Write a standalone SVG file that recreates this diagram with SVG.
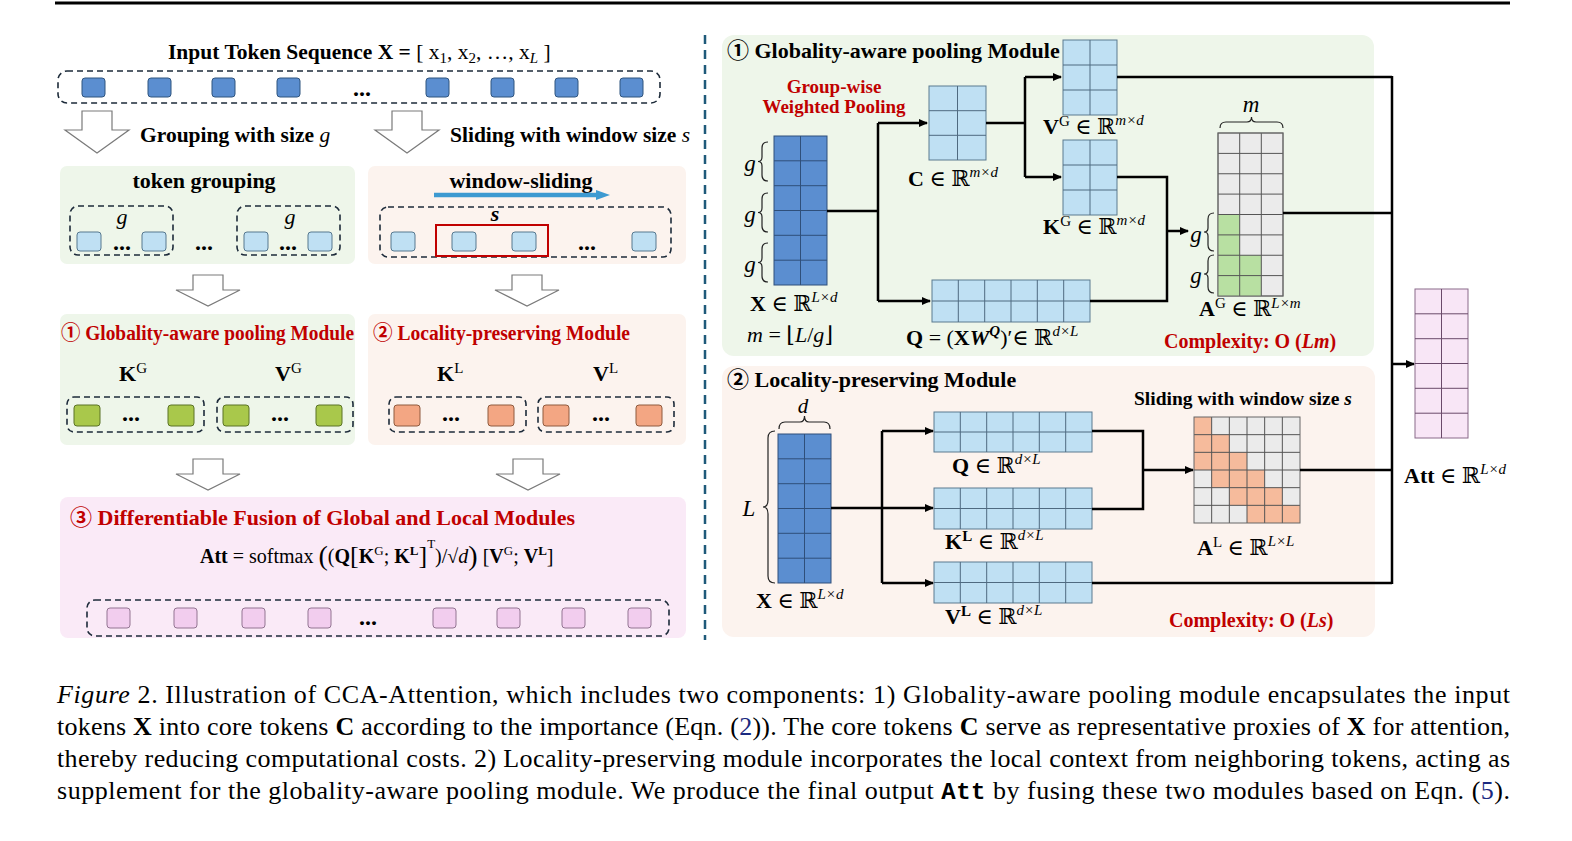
<svg xmlns="http://www.w3.org/2000/svg" width="1572" height="841" viewBox="0 0 1572 841">
<style>
text{font-family:"Liberation Serif","DejaVu Serif","Noto Sans CJK SC",serif;fill:#000}
.b{font-weight:bold}
.i{font-style:italic}
.red{fill:#c00000}
.lab{font-size:21.5px;font-weight:bold}
.ttl{font-size:22px;font-weight:bold}
.m{font-size:22px}
.s{font-size:15px}
.dots{font-size:24px;font-weight:bold}
.dash{fill:none;stroke:#1d2b3a;stroke-width:1.6;stroke-dasharray:6 4}
.pg{fill:#eef6ea}
.pp{fill:#fcf3ee}
.pk{fill:#faeaf7}
.tb{fill:#5b8ed0;stroke:#2f557f;stroke-width:1}
.tl{fill:#bfe0f3;stroke:#56788f;stroke-width:1}
.tg{fill:#a9c84b;stroke:#5b7326;stroke-width:1}
.to{fill:#f3a683;stroke:#8f5a3e;stroke-width:1}
.tp{fill:#f2cdee;stroke:#937592;stroke-width:1}
.mb{fill:#5b8ed0;stroke:#2f4f7a;stroke-width:1}
.mbg{fill:none;stroke:#2f4f7a;stroke-width:1}
.ml{fill:#bfe0f3;stroke:#5b7a8f;stroke-width:1}
.mlg{fill:none;stroke:#4f6a80;stroke-width:1}
.mgr{fill:#ebebeb;stroke:#666;stroke-width:1}
.mgg{fill:none;stroke:#555;stroke-width:1}
.mpk{fill:#f8e6f6;stroke:#8a6a8a;stroke-width:1}
.mpkg{fill:none;stroke:#6a4a6a;stroke-width:1}
.br{fill:none;stroke:#222;stroke-width:1.2}
.con{fill:none;stroke:#000;stroke-width:2.5}
.cap{font-size:26px}
</style>
<defs>
<marker id="ah" markerWidth="9" markerHeight="8" refX="8" refY="4" orient="auto" markerUnits="userSpaceOnUse">
<path d="M0,0 L9,4 L0,8 Z" fill="#000"/>
</marker>
<path id="bigArrow" d="M-15,0 H15 V19 H32 L0,42 L-32,19 H-15 Z" fill="#fff" stroke="#7a7a7a" stroke-width="1.2"/>
<path id="smallArrow" d="M-15,0 H15 V15 H32 L0,31 L-32,15 H-15 Z" fill="#fff" stroke="#7a7a7a" stroke-width="1.2"/>
</defs>
<rect x="0" y="0" width="1572" height="841" fill="#fff"/>
<line x1="55" y1="3" x2="1510" y2="3" stroke="#000" stroke-width="3"/>
<line x1="705" y1="35" x2="705" y2="640" stroke="#1f5a7a" stroke-width="2.5" stroke-dasharray="9 6"/>

<!-- LEFT: input sequence -->
<g id="input-seq">
<text x="168" y="59" font-size="21.5"><tspan class="b">Input Token Sequence X =</tspan> [ x<tspan class="s" dy="4">1</tspan><tspan dy="-4">, x</tspan><tspan class="s" dy="4">2</tspan><tspan dy="-4">, …, x</tspan><tspan class="s i" dy="4">L</tspan><tspan dy="-4"> ]</tspan></text>
<rect x="58" y="71" width="602" height="32" rx="9" class="dash"/>
<rect x="82" y="78" width="23" height="19" rx="3" class="tb"/>
<rect x="148" y="78" width="23" height="19" rx="3" class="tb"/>
<rect x="212" y="78" width="23" height="19" rx="3" class="tb"/>
<rect x="277" y="78" width="23" height="19" rx="3" class="tb"/>
<text x="362" y="96" class="dots" text-anchor="middle">...</text>
<rect x="426" y="78" width="23" height="19" rx="3" class="tb"/>
<rect x="491" y="78" width="23" height="19" rx="3" class="tb"/>
<rect x="555" y="78" width="23" height="19" rx="3" class="tb"/>
<rect x="620" y="78" width="23" height="19" rx="3" class="tb"/>
</g>

<g id="arrows-left">
<use href="#bigArrow" x="97" y="111"/>
<use href="#bigArrow" x="407" y="111"/>
<use href="#smallArrow" x="208" y="275"/>
<use href="#smallArrow" x="527" y="275"/>
<use href="#smallArrow" x="208" y="459"/>
<use href="#smallArrow" x="528" y="459"/>
<text x="140" y="142" class="lab">Grouping with size <tspan class="i" font-weight="normal">g</tspan></text>
<text x="450" y="142" class="lab">Sliding with window size <tspan class="i" font-weight="normal">s</tspan></text>
</g>

<g id="token-grouping">
<rect x="60" y="166" width="295" height="98" rx="7" class="pg"/>
<text x="204" y="188" class="ttl" text-anchor="middle">token grouping</text>
<rect x="70" y="206" width="103" height="49" rx="8" class="dash"/>
<rect x="237" y="206" width="103" height="49" rx="8" class="dash"/>
<text x="122" y="224" font-size="22" class="i" text-anchor="middle">g</text>
<text x="290" y="224" font-size="22" class="i" text-anchor="middle">g</text>
<rect x="77" y="232" width="24" height="19" rx="3" class="tl"/>
<rect x="142" y="232" width="24" height="19" rx="3" class="tl"/>
<rect x="244" y="232" width="24" height="19" rx="3" class="tl"/>
<rect x="308" y="232" width="24" height="19" rx="3" class="tl"/>
<text x="122" y="250" class="dots" text-anchor="middle">...</text>
<text x="204" y="250" class="dots" text-anchor="middle">...</text>
<text x="288" y="250" class="dots" text-anchor="middle">...</text>
</g>

<g id="window-sliding">
<rect x="368" y="166" width="318" height="98" rx="7" class="pp"/>
<text x="521" y="188" class="ttl" text-anchor="middle">window-sliding</text>
<line x1="434" y1="195" x2="597" y2="195" stroke="#3d9ad1" stroke-width="4.5"/>
<path d="M596,190 L610,195 L596,200 Z" fill="#3d9ad1"/>
<rect x="380" y="207" width="291" height="50" rx="8" class="dash"/>
<text x="495" y="221" font-size="22" class="b i" text-anchor="middle">s</text>
<rect x="436" y="225" width="112" height="31" fill="none" stroke="#c00000" stroke-width="2"/>
<rect x="391" y="232" width="24" height="19" rx="3" class="tl"/>
<rect x="452" y="232" width="24" height="19" rx="3" class="tl"/>
<rect x="512" y="232" width="24" height="19" rx="3" class="tl"/>
<rect x="632" y="232" width="24" height="19" rx="3" class="tl"/>
<text x="587" y="250" class="dots" text-anchor="middle">...</text>
</g>

<g id="global-module-left">
<rect x="60" y="314" width="295" height="131" rx="7" class="pg"/>
<text x="61" y="340" class="b red" font-size="20" textLength="293" lengthAdjust="spacingAndGlyphs">① Globality-aware pooling Module</text>
<text x="119" y="381" font-size="22"><tspan class="b">K</tspan><tspan class="s" dy="-8">G</tspan></text>
<text x="275" y="381" font-size="22"><tspan class="b">V</tspan><tspan class="s" dy="-8">G</tspan></text>
<rect x="67" y="397" width="137" height="35" rx="7" class="dash"/>
<rect x="217" y="397" width="136" height="35" rx="7" class="dash"/>
<rect x="74" y="405" width="26" height="21" rx="3" class="tg"/>
<rect x="168" y="405" width="26" height="21" rx="3" class="tg"/>
<rect x="223" y="405" width="26" height="21" rx="3" class="tg"/>
<rect x="316" y="405" width="26" height="21" rx="3" class="tg"/>
<text x="131" y="421" class="dots" text-anchor="middle">...</text>
<text x="280" y="421" class="dots" text-anchor="middle">...</text>
</g>

<g id="local-module-left">
<rect x="368" y="314" width="318" height="131" rx="7" class="pp"/>
<text x="373" y="340" class="b red" font-size="20" textLength="257" lengthAdjust="spacingAndGlyphs">② Locality-preserving Module</text>
<text x="437" y="381" font-size="22"><tspan class="b">K</tspan><tspan class="s" dy="-8">L</tspan></text>
<text x="593" y="381" font-size="22"><tspan class="b">V</tspan><tspan class="s" dy="-8">L</tspan></text>
<rect x="389" y="397" width="137" height="35" rx="7" class="dash"/>
<rect x="538" y="397" width="136" height="35" rx="7" class="dash"/>
<rect x="394" y="405" width="26" height="21" rx="3" class="to"/>
<rect x="488" y="405" width="26" height="21" rx="3" class="to"/>
<rect x="543" y="405" width="26" height="21" rx="3" class="to"/>
<rect x="636" y="405" width="26" height="21" rx="3" class="to"/>
<text x="451" y="421" class="dots" text-anchor="middle">...</text>
<text x="601" y="421" class="dots" text-anchor="middle">...</text>
</g>

<g id="fusion">
<rect x="60" y="497" width="626" height="141" rx="8" class="pk"/>
<text x="70" y="525" class="b red" font-size="22">③ Differentiable Fusion of Global and Local Modules</text>
<text x="200" y="563" font-size="20"><tspan class="b">Att</tspan> = softmax <tspan font-size="28" dy="2">(</tspan><tspan dy="-2">(</tspan><tspan class="b">Q</tspan><tspan font-size="26" dy="1">[</tspan><tspan class="b" dy="-1">K</tspan><tspan font-size="13" dy="-8">G</tspan><tspan dy="8">; </tspan><tspan class="b">K</tspan><tspan class="b" font-size="13" dy="-8">L</tspan><tspan font-size="26" dy="9">]</tspan><tspan font-size="13" dy="-16">T</tspan><tspan dy="15">)/√</tspan><tspan class="i">d</tspan><tspan font-size="28" dy="2">)</tspan><tspan dy="-2"> [</tspan><tspan class="b">V</tspan><tspan font-size="13" dy="-8">G</tspan><tspan dy="8">; </tspan><tspan class="b">V</tspan><tspan class="b" font-size="13" dy="-8">L</tspan><tspan dy="8">]</tspan></text>
<rect x="87" y="600" width="582" height="36" rx="8" class="dash"/>
<rect x="107" y="608" width="23" height="20" rx="3" class="tp"/>
<rect x="174" y="608" width="23" height="20" rx="3" class="tp"/>
<rect x="242" y="608" width="23" height="20" rx="3" class="tp"/>
<rect x="308" y="608" width="23" height="20" rx="3" class="tp"/>
<text x="368" y="625" class="dots" text-anchor="middle">...</text>
<rect x="433" y="608" width="23" height="20" rx="3" class="tp"/>
<rect x="497" y="608" width="23" height="20" rx="3" class="tp"/>
<rect x="562" y="608" width="23" height="20" rx="3" class="tp"/>
<rect x="628" y="608" width="23" height="20" rx="3" class="tp"/>
</g>

<!-- RIGHT PANELS -->
<g id="global-panel">
<rect x="722" y="35" width="652" height="321" rx="12" class="pg"/>
<text x="727" y="58" class="b" font-size="22">① Globality-aware pooling Module</text>
<text x="834" y="93" class="b red" font-size="19" text-anchor="middle">Group-wise</text>
<text x="834" y="113" class="b red" font-size="19" text-anchor="middle">Weighted Pooling</text>
</g>

<g id="X-global">
<rect x="774" y="136" width="53" height="149" class="mb"/>
<path class="mbg" d="M800.5,136 V285 M774,160.8 H827 M774,185.7 H827 M774,210.5 H827 M774,235.3 H827 M774,260.2 H827"/>
<path class="br" d="M768,142 Q762,142 762,148 V157 Q762,161.5 758,161.5 Q762,161.5 762,166 V175 Q762,181 768,181"/>
<path class="br" d="M768,193 Q762,193 762,199 V208 Q762,212.5 758,212.5 Q762,212.5 762,217 V226 Q762,232 768,232"/>
<path class="br" d="M768,243 Q762,243 762,249 V258 Q762,262.5 758,262.5 Q762,262.5 762,267 V276 Q762,282 768,282"/>
<text x="750" y="171" font-size="23" class="i" text-anchor="middle">g</text>
<text x="750" y="222" font-size="23" class="i" text-anchor="middle">g</text>
<text x="750" y="272" font-size="23" class="i" text-anchor="middle">g</text>
<text x="750" y="311" class="m"><tspan class="b">X</tspan> ∈ ℝ<tspan class="s i" dy="-9">L×d</tspan></text>
<text x="747" y="342" class="m"><tspan class="i">m</tspan> = ⌊<tspan class="i">L</tspan>/<tspan class="i">g</tspan>⌋</text>
</g>

<g id="C-node">
<rect x="929" y="86" width="57" height="74" class="ml"/>
<path class="mlg" d="M957.5,86 V160 M929,110.7 H986 M929,135.3 H986"/>
<text x="908" y="186" class="m"><tspan class="b">C</tspan> ∈ ℝ<tspan class="s i" dy="-9">m×d</tspan></text>
</g>

<g id="VG-node">
<rect x="1063" y="40" width="54" height="75" class="ml"/>
<path class="mlg" d="M1090,40 V115 M1063,65 H1117 M1063,90 H1117"/>
<text x="1043" y="134" class="m"><tspan class="b">V</tspan><tspan class="s" dy="-8">G</tspan><tspan dy="8"> ∈ ℝ</tspan><tspan class="s i" dy="-9">m×d</tspan></text>
</g>

<g id="KG-node">
<rect x="1063" y="140" width="54" height="75" class="ml"/>
<path class="mlg" d="M1090,140 V215 M1063,165 H1117 M1063,190 H1117"/>
<text x="1043" y="234" class="m"><tspan class="b">K</tspan><tspan class="s" dy="-8">G</tspan><tspan dy="8"> ∈ ℝ</tspan><tspan class="s i" dy="-9">m×d</tspan></text>
</g>

<g id="Q-global">
<rect x="932" y="280" width="158" height="42" class="ml"/>
<path class="mlg" d="M958.3,280 V322 M984.7,280 V322 M1011,280 V322 M1037.3,280 V322 M1063.7,280 V322 M932,301 H1090"/>
<text x="906" y="345" class="m"><tspan class="b">Q</tspan> = (<tspan class="b">X</tspan><tspan class="b i">W</tspan><tspan class="s b i" dy="-9">Q</tspan><tspan dy="9">)′∈ ℝ</tspan><tspan class="s i" dy="-9">d×L</tspan></text>
</g>

<g id="AG-node">
<rect x="1218" y="133" width="65" height="163" class="mgr"/>
<rect x="1218" y="214.5" width="21.7" height="81.5" fill="#b8e0a2"/>
<rect x="1239.7" y="255.25" width="21.6" height="40.75" fill="#b8e0a2"/>
<path class="mgg" d="M1239.7,133 V296 M1261.3,133 V296 M1218,153.4 H1283 M1218,173.75 H1283 M1218,194.1 H1283 M1218,214.5 H1283 M1218,234.9 H1283 M1218,255.25 H1283 M1218,275.6 H1283"/>
<rect x="1218" y="133" width="65" height="163" fill="none" stroke="#666" stroke-width="1"/>
<text x="1251" y="112" font-size="23" class="i" text-anchor="middle">m</text>
<path class="br" d="M1220,128 Q1220,122 1226,122 H1247 Q1251.5,122 1251.5,117 Q1251.5,122 1256,122 H1277 Q1283,122 1283,128"/>
<path class="br" d="M1214,213 Q1208,213 1208,219 V228 Q1208,232 1204,232 Q1208,232 1208,236 V245 Q1208,251 1214,251"/>
<path class="br" d="M1214,255 Q1208,255 1208,261 V270 Q1208,274 1204,274 Q1208,274 1208,278 V287 Q1208,293 1214,293"/>
<text x="1196" y="242" font-size="23" class="i" text-anchor="middle">g</text>
<text x="1196" y="283" font-size="23" class="i" text-anchor="middle">g</text>
<text x="1199" y="316" class="m"><tspan class="b">A</tspan><tspan class="s" dy="-8">G</tspan><tspan dy="8"> ∈ ℝ</tspan><tspan class="s i" dy="-8">L×m</tspan></text>
<text x="1164" y="348" class="b red" font-size="20">Complexity: O (<tspan class="i">Lm</tspan>)</text>
</g>

<g id="local-panel">
<rect x="722" y="366" width="653" height="271" rx="12" class="pp"/>
<text x="727" y="387" class="b" font-size="22">② Locality-preserving Module</text>
<text x="1134" y="405" class="b" font-size="19.5">Sliding with window size <tspan class="i">s</tspan></text>
<text x="1169" y="627" class="b red" font-size="20">Complexity: O (<tspan class="i">Ls</tspan>)</text>
</g>

<g id="X-local">
<rect x="778" y="434" width="53" height="149" class="mb"/>
<path class="mbg" d="M804.5,434 V583 M778,458.8 H831 M778,483.7 H831 M778,508.5 H831 M778,533.3 H831 M778,558.2 H831"/>
<text x="803" y="413" font-size="21" class="i" text-anchor="middle">d</text>
<path class="br" d="M779,429 Q779,422 785,422 H800 Q804.5,422 804.5,416 Q804.5,422 809,422 H824 Q830,422 830,429"/>
<path class="br" d="M775,431 Q768,431 768,438 V500 Q768,507 763,507 Q768,507 768,514 V576 Q768,583 775,583"/>
<text x="749" y="516" font-size="23" class="i" text-anchor="middle">L</text>
<text x="756" y="608" class="m"><tspan class="b">X</tspan> ∈ ℝ<tspan class="s i" dy="-9">L×d</tspan></text>
</g>

<g id="Q-local">
<rect x="934" y="412" width="158" height="40" class="ml"/>
<path class="mlg" d="M960.3,412 V452 M986.7,412 V452 M1013,412 V452 M1039.3,412 V452 M1065.7,412 V452 M934,432 H1092"/>
<text x="952" y="473" class="m"><tspan class="b">Q</tspan> ∈ ℝ<tspan class="s i" dy="-9">d×L</tspan></text>
</g>

<g id="K-local">
<rect x="934" y="488" width="158" height="41" class="ml"/>
<path class="mlg" d="M960.3,488 V529 M986.7,488 V529 M1013,488 V529 M1039.3,488 V529 M1065.7,488 V529 M934,508.5 H1092"/>
<text x="945" y="549" class="m"><tspan class="b">K</tspan><tspan class="s b" dy="-8">L</tspan><tspan dy="8"> ∈ ℝ</tspan><tspan class="s i" dy="-9">d×L</tspan></text>
</g>

<g id="V-local">
<rect x="934" y="562" width="158" height="41" class="ml"/>
<path class="mlg" d="M960.3,562 V603 M986.7,562 V603 M1013,562 V603 M1039.3,562 V603 M1065.7,562 V603 M934,582.5 H1092"/>
<text x="945" y="624" class="m"><tspan class="b">V</tspan><tspan class="s b" dy="-8">L</tspan><tspan dy="8"> ∈ ℝ</tspan><tspan class="s i" dy="-9">d×L</tspan></text>
</g>

<g id="AL-node">
<rect x="1194" y="417" width="106" height="106" fill="#ebebeb"/>
<polygon fill="#f6bb9c" points="1194,417 1211.67,417 1211.67,434.67 1229.33,434.67 1229.33,452.33 1247,452.33 1247,470 1264.67,470 1264.67,487.67 1282.33,487.67 1282.33,505.33 1300,505.33 1300,523 1247,523 1247,505.33 1229.33,505.33 1229.33,487.67 1211.67,487.67 1211.67,470 1194,470"/>
<path class="mgg" d="M1211.67,417 V523 M1229.33,417 V523 M1247,417 V523 M1264.67,417 V523 M1282.33,417 V523 M1194,434.67 H1300 M1194,452.33 H1300 M1194,470 H1300 M1194,487.67 H1300 M1194,505.33 H1300"/>
<rect x="1194" y="417" width="106" height="106" fill="none" stroke="#666" stroke-width="1"/>
<text x="1197" y="555" class="m"><tspan class="b">A</tspan><tspan class="s" dy="-8">L</tspan><tspan dy="8"> ∈ ℝ</tspan><tspan class="s i" dy="-9">L×L</tspan></text>
</g>

<g id="Att-node">
<rect x="1415" y="289" width="53" height="149" class="mpk"/>
<path class="mpkg" d="M1441.5,289 V438 M1415,313.8 H1468 M1415,338.7 H1468 M1415,363.5 H1468 M1415,388.3 H1468 M1415,413.2 H1468"/>
<text x="1404" y="483" class="m"><tspan class="b">Att</tspan> ∈ ℝ<tspan class="s i" dy="-9">L×d</tspan></text>
</g>

<g id="connectors">
<path class="con" d="M827,211 H878 M878,123 V301"/>
<path class="con" d="M878,123 H927" marker-end="url(#ah)"/>
<path class="con" d="M878,301 H930" marker-end="url(#ah)"/>
<path class="con" d="M986,123 H1025 M1025,77 V177"/>
<path class="con" d="M1025,77 H1061" marker-end="url(#ah)"/>
<path class="con" d="M1025,177 H1061" marker-end="url(#ah)"/>
<path class="con" d="M1117,77 H1392"/>
<path class="con" d="M1117,177 H1167 V301 H1090"/>
<path class="con" d="M1167,231 H1188" marker-end="url(#ah)"/>
<path class="con" d="M1283,213 H1392"/>
<path class="con" d="M1392,76 V584" stroke-width="3"/>
<path class="con" d="M1392,364 H1414" marker-end="url(#ah)"/>
<path class="con" d="M831,508 H882 M882,431 V583"/>
<path class="con" d="M882,431 H933" marker-end="url(#ah)"/>
<path class="con" d="M882,508 H933" marker-end="url(#ah)"/>
<path class="con" d="M882,583 H933" marker-end="url(#ah)"/>
<path class="con" d="M1092,431 H1143 V509 H1092"/>
<path class="con" d="M1143,470 H1193" marker-end="url(#ah)"/>
<path class="con" d="M1300,470 H1392"/>
<path class="con" d="M1092,583 H1392"/>
</g>

<g id="caption">
<text x="57" y="703" class="cap" textLength="1453" lengthAdjust="spacing"><tspan class="i">Figure</tspan> 2. Illustration of CCA-Attention, which includes two components: 1) Globality-aware pooling module encapsulates the input</text>
<text x="57" y="735" class="cap" textLength="1453" lengthAdjust="spacing">tokens <tspan class="b">X</tspan> into core tokens <tspan class="b">C</tspan> according to the importance (Eqn. (<tspan fill="#1a2a80">2</tspan>)). The core tokens <tspan class="b">C</tspan> serve as representative proxies of <tspan class="b">X</tspan> for attention,</text>
<text x="57" y="767" class="cap" textLength="1453" lengthAdjust="spacing">thereby reducing computational costs. 2) Locality-preserving module incorporates the local context from neighboring tokens, acting as</text>
<text x="57" y="799" class="cap" textLength="1453" lengthAdjust="spacing">supplement for the globality-aware pooling module. We produce the final output <tspan class="b" font-family="Liberation Mono, monospace" font-size="24">Att</tspan> by fusing these two modules based on Eqn. (<tspan fill="#1a2a80">5</tspan>).</text>
</g>
</svg>
